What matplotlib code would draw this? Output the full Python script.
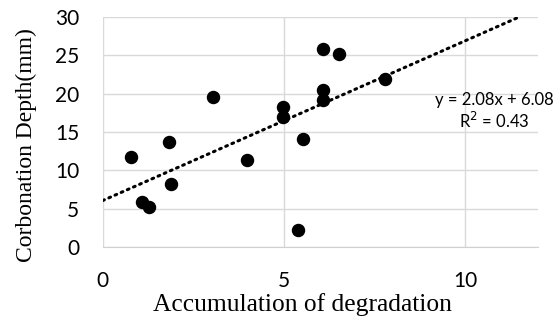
import numpy as np
import matplotlib
matplotlib.use('Agg')
import matplotlib.pyplot as plt

# 열화 누적량 vs 탄산화 깊이
degradation = [0.77, 1.83, 3.05, 3.97, 1.09, 1.29, 1.88, 5.39,
               6.06, 6.51, 7.78, 6.06, 6.06, 4.98, 4.98, 5.51]
depth = [11.7, 13.7, 19.6, 11.4, 5.85, 5.3, 8.2, 2.25,
         25.8, 25.1, 21.9, 20.4, 19.1, 18.2, 16.9, 14.1]

# 추세선 (표시된 식 그대로)
slope = 2.08
intercept = 6.08
r_squared = 0.43


def main():
    fig = plt.figure(figsize=(5.6, 3.2), dpi=100)
    ax = fig.add_axes([0.1834, 0.2272, 0.7773, 0.7206])

    ax.scatter(degradation, depth, s=75, color='black', zorder=3)

    x_end = (30 - intercept) / slope
    xs = np.array([0, x_end])
    ax.plot(xs, slope * xs + intercept, color='black', linewidth=2.2,
            linestyle=(0, (0.6, 1.6)), dash_capstyle='round', zorder=2)

    ax.set_xlim(0, 12)
    ax.set_ylim(0, 30)
    ax.set_xticks([0, 5, 10])
    ax.set_yticks(range(0, 31, 5))
    ax.grid(True, color='#d9d9d9', linewidth=1)
    ax.set_axisbelow(True)
    for s in ['top', 'right', 'left']:
        ax.spines[s].set_visible(False)
    ax.spines['bottom'].set_color('#d0d0d0')
    ax.tick_params(length=0, labelsize=15, colors='black')
    ax.tick_params(axis='y', pad=17)
    ax.tick_params(axis='x', pad=17)
    for lab in ax.get_xticklabels() + ax.get_yticklabels():
        lab.set_family('Lato')

    ax.set_xlabel('Accumulation of degradation', family='Liberation Serif',
                  fontsize=18.4)
    ax.xaxis.set_label_coords(0.46, -0.198)
    ax.set_ylabel('Corbonation Depth(mm)', family='Liberation Serif',
                  fontsize=17)
    ax.yaxis.set_label_coords(-0.151, 0.445)

    ax.text(10.8, 19.2, f'y = {slope:.2f}x + {intercept:.2f}', family='Lato',
            fontsize=12, ha='center', va='center')
    ax.text(10.8, 16.4, f'R$^2$ = {r_squared:.2f}', family='Lato',
            fontsize=12, ha='center', va='center')

    fig.savefig('out.png', dpi=100)


if __name__ == "__main__":
    main()
